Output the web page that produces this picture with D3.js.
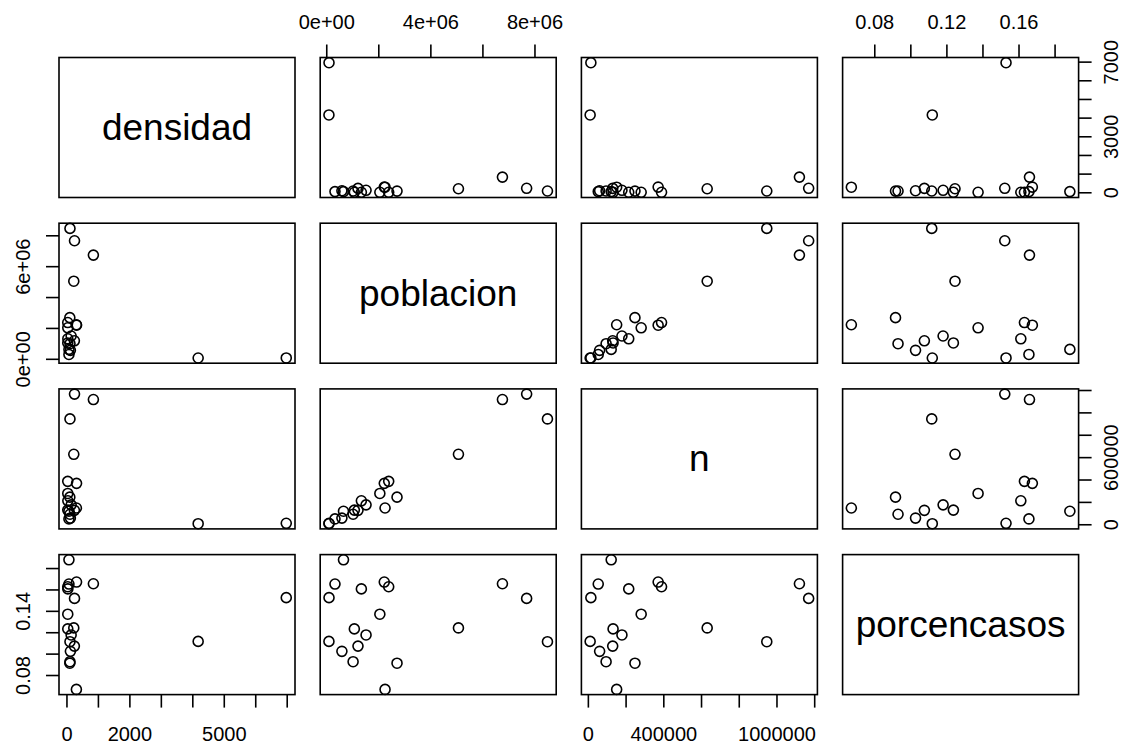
<!DOCTYPE html>
<html>
<head>
<meta charset="utf-8">
<script src="https://cdn.jsdelivr.net/npm/d3@7"></script>
<style>
  body { margin: 0; background: #fff; }
  svg text { font-family: "Liberation Sans", Arial, Helvetica, sans-serif; fill: #000; }
</style>
</head>
<body>
<svg id="chart" width="1129" height="745"></svg>
<script>
// variable names (diagonal labels)
var variables = ["densidad", "poblacion", "n", "porcencasos"];

// one entry per region (19 points)
var regiones = ["Andalucía", "Aragón", "Asturias", "Baleares", "Canarias", "Cantabria",
  "Castilla y León", "Castilla-La Mancha", "Cataluña", "C. Valenciana", "Extremadura",
  "Galicia", "Madrid", "Murcia", "Navarra", "País Vasco", "La Rioja", "Ceuta", "Melilla"];
var densidad = [96, 28, 96, 236, 300, 109, 25, 26, 240, 217, 26, 91, 840, 133, 63, 305, 63, 4170, 6970];
var poblacion = [8480000, 1330000, 1012000, 1200000, 2240000, 582000, 2380000, 2040000, 7680000,
  5060000, 1060000, 2700000, 6750000, 1510000, 643000, 2210000, 316000, 84000, 87000];
var n = [946000, 214000, 94000, 129000, 150000, 59700, 388000, 280000, 1168000,
  630000, 131000, 247000, 1119000, 178000, 121000, 370000, 52300, 9400, 13300];
var porcencasos = [0.1116, 0.1610, 0.0929, 0.1075, 0.0670, 0.1026, 0.1630, 0.1373, 0.1521,
  0.1245, 0.1236, 0.0915, 0.1658, 0.1179, 0.1882, 0.1674, 0.1655, 0.1119, 0.1528];

// tick positions and the labels R kept (overlapping ones dropped)
var ticksDensidad = [0, 1000, 2000, 3000, 4000, 5000, 6000, 7000];
var labelsDensidadBottom = [0, 2000, 5000];
var labelsDensidadRight = [0, 3000, 7000];
var ticksPoblacion = [0, 2000000, 4000000, 6000000, 8000000];
var labelsPoblacionTop = [0, 4000000, 8000000];
var labelsPoblacionLeft = [0, 6000000];
var ticksN = [0, 200000, 400000, 600000, 800000, 1000000, 1200000];
var labelsNBottom = [0, 400000, 1000000];
var labelsNRight = [0, 600000];
var ticksPorc = [0.08, 0.10, 0.12, 0.14, 0.16, 0.18];
var labelsPorcTop = [0.08, 0.12, 0.16];
var labelsPorcLeft = [0.08, 0.14];

var columns = [densidad, poblacion, n, porcencasos];
var ticks = [ticksDensidad, ticksPoblacion, ticksN, ticksPorc];
var fmt = [
  function(v) { return String(v); },
  function(v) { return v === 0 ? "0e+00" : (v / 1e6) + "e+06"; },
  function(v) { return String(v); },
  function(v) { return v.toFixed(2); }
];
// labels by side: 1 bottom, 2 left, 3 top, 4 right
var tickLabels = {
  "0-1": labelsDensidadBottom, "0-4": labelsDensidadRight,
  "1-3": labelsPoblacionTop, "1-2": labelsPoblacionLeft,
  "2-1": labelsNBottom, "2-4": labelsNRight,
  "3-3": labelsPorcTop, "3-2": labelsPorcLeft
};

// layout
var left0 = 59, top0 = 57.5, pw = 236, ph = 140, stepX = 261.2, stepY = 165.7;
var tickLen = 13;
var lw = 1.6;

var svg = d3.select("#chart");

// R style ranges: data range padded by 4% on each side
function rDomain(arr) {
  var lo = d3.min(arr), hi = d3.max(arr), r = hi - lo;
  return [lo - 0.04 * r, hi + 0.04 * r];
}
var xScales = columns.map(function(arr, j) {
  var x0 = left0 + j * stepX;
  return d3.scaleLinear().domain(rDomain(arr)).range([x0, x0 + pw]);
});
var yScales = columns.map(function(arr, i) {
  var y0 = top0 + i * stepY;
  return d3.scaleLinear().domain(rDomain(arr)).range([y0 + ph, y0]);
});

function drawAxis(v, side, i, j) {
  var g = svg.append("g");
  var x0 = left0 + j * stepX, y0 = top0 + i * stepY;
  var labs = tickLabels[v + "-" + side];
  ticks[v].forEach(function(t) {
    if (side === 1 || side === 3) {
      var x = xScales[v](t);
      var ye = side === 1 ? y0 + ph : y0;
      var dir = side === 1 ? 1 : -1;
      g.append("line").attr("x1", x).attr("x2", x).attr("y1", ye).attr("y2", ye + dir * tickLen)
        .attr("stroke", "#000").attr("stroke-width", lw);
      if (labs.indexOf(t) >= 0) {
        g.append("text").attr("x", x).attr("y", side === 1 ? ye + 46 : ye - 28.5)
          .attr("text-anchor", "middle").style("font-size", "20px").text(fmt[v](t));
      }
    } else {
      var y = yScales[v](t);
      var xe = side === 2 ? x0 : x0 + pw;
      var d = side === 2 ? -1 : 1;
      g.append("line").attr("x1", xe).attr("x2", xe + d * tickLen).attr("y1", y).attr("y2", y)
        .attr("stroke", "#000").attr("stroke-width", lw);
      if (labs.indexOf(t) >= 0) {
        var tx = side === 2 ? xe - 29.5 : xe + 39;
        g.append("text").attr("transform", "translate(" + tx + "," + y + ") rotate(-90)")
          .attr("text-anchor", "middle").style("font-size", "20px").text(fmt[v](t));
      }
    }
  });
}

for (var i = 0; i < 4; i++) {
  for (var j = 0; j < 4; j++) {
    var x0 = left0 + j * stepX, y0 = top0 + i * stepY;
    var cell = svg.append("g");
    if (i === j) {
      cell.append("text").attr("x", x0 + pw / 2).attr("y", y0 + ph / 2 + 12.5)
        .attr("text-anchor", "middle").style("font-size", "37px").text(variables[i]);
    } else {
      var xs = xScales[j], ys = yScales[i], xv = columns[j], yv = columns[i];
      cell.selectAll("circle").data(d3.range(regiones.length)).enter().append("circle")
        .attr("cx", function(k) { return xs(xv[k]); })
        .attr("cy", function(k) { return ys(yv[k]); })
        .attr("r", 5)
        .attr("fill", "none").attr("stroke", "#000").attr("stroke-width", lw);
    }
    cell.append("rect").attr("x", x0).attr("y", y0).attr("width", pw).attr("height", ph)
      .attr("fill", "none").attr("stroke", "#000").attr("stroke-width", lw);

    // axes as in R pairs(): alternating sides
    if (i === 0 && j % 2 === 1) drawAxis(j, 3, i, j);
    if (i === 3 && j % 2 === 0) drawAxis(j, 1, i, j);
    if (j === 0 && i % 2 === 1) drawAxis(i, 2, i, j);
    if (j === 3 && i % 2 === 0) drawAxis(i, 4, i, j);
  }
}
</script>
</body>
</html>
